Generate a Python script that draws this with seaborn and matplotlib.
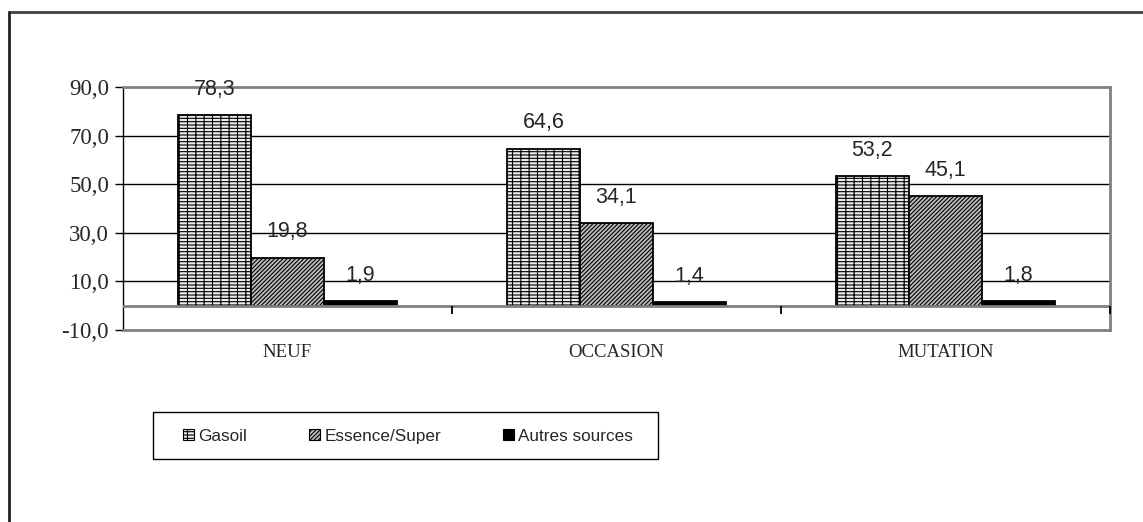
import matplotlib
matplotlib.use("Agg")
import matplotlib.pyplot as plt
import matplotlib.patches as mpatches
from matplotlib.lines import Line2D
from matplotlib.ticker import FuncFormatter
import seaborn as sns
import pandas as pd

# ---- data ----
categories = ["NEUF", "OCCASION", "MUTATION"]
series_names = ["Gasoil", "Essence/Super", "Autres sources"]
gasoil = [78.3, 64.6, 53.2]
essence = [19.8, 34.1, 45.1]
autres = [1.9, 1.4, 1.8]
yticks = [-10, 10, 30, 50, 70, 90]

rows = []
for name, vals in zip(series_names, [gasoil, essence, autres]):
    for c, v in zip(categories, vals):
        rows.append({"cat": c, "serie": name, "val": v})
df = pd.DataFrame(rows)

sns.set_style("white")
plt.rcParams["hatch.linewidth"] = 0.8

fig = plt.figure(figsize=(11.43, 5.22), dpi=100)
ax = fig.add_axes([123 / 1143, 1 - 330 / 522, (1110 - 123) / 1143, (330 - 87) / 522])

facecolors = ["#ececec", "#bdbdbd", "#000000"]
sns.barplot(data=df, x="cat", y="val", hue="serie", order=categories,
            hue_order=series_names, palette=facecolors, width=0.666,
            saturation=1, ax=ax, legend=False, edgecolor="black", linewidth=1.3)

hatches = ["-----||", "////////", None]
hatchcolors = ["#8c8c8c", "#3a3a3a", "black"]
for cont, h, hc in zip(ax.containers, hatches, hatchcolors):
    for p in cont:
        if h:
            p.set_hatch(h)
            try:
                p.set_hatchcolor(hc)
            except Exception:
                pass
    ax.bar_label(cont, labels=[f"{v:.1f}".replace(".", ",") for v in cont.datavalues],
                 padding=11, fontsize=15.5, family="Liberation Sans")

ax.set_ylim(-10, 90)
ax.set_xlim(-0.5, len(categories) - 0.5)
ax.set_yticks(yticks)
ax.yaxis.set_major_formatter(FuncFormatter(lambda v, p: f"{v:.1f}".replace(".", ",")))
for v in yticks[1:-1]:
    ax.axhline(v, color="black", lw=1, zorder=0)
ax.axhline(0, color="#808080", lw=2, zorder=3)
bounds = [i - 0.5 for i in range(len(categories) + 1)]
ax.vlines(bounds[1:], 0, -3.3, color="black", lw=1.3, zorder=4, clip_on=False)

for s in ["top", "right", "bottom"]:
    ax.spines[s].set_color("#808080")
    ax.spines[s].set_linewidth(2)
ax.spines["left"].set_color("black")
ax.spines["left"].set_linewidth(1)

ax.tick_params(axis="y", length=6, width=1, color="black", left=True, pad=4)
ax.tick_params(axis="x", length=0, pad=10)
for t in ax.get_yticklabels():
    t.set_fontfamily("Liberation Serif")
    t.set_fontsize(16.5)
for t in ax.get_xticklabels():
    t.set_fontfamily("Liberation Serif")
    t.set_fontsize(13.5)
ax.set_xlabel("")
ax.set_ylabel("")

# legend
handles = [mpatches.Patch(facecolor=f, edgecolor="black", hatch=h, lw=0.8)
           for f, h in zip(facecolors, hatches)]
leg = fig.legend(handles, series_names, loc="center",
                 bbox_to_anchor=(408 / 1143, 1 - 436 / 522), ncol=3, frameon=False,
                 handlelength=0.65, handleheight=0.65, handletextpad=0.25,
                 columnspacing=3.6, prop={"family": "Liberation Sans", "size": 12.3})
fig.add_artist(mpatches.Rectangle((153 / 1143, 1 - 459 / 522), 505 / 1143, 47 / 522,
                                  transform=fig.transFigure, fill=False,
                                  edgecolor="black", lw=1))

# outer frame
fig.add_artist(Line2D([9 / 1143, 1], [1 - 12 / 522, 1 - 12 / 522],
                      transform=fig.transFigure, color="#404040", lw=2))
fig.add_artist(Line2D([9 / 1143, 9 / 1143], [0, 1 - 12 / 522],
                      transform=fig.transFigure, color="#202020", lw=2))

fig.savefig("out.png", dpi=100)
